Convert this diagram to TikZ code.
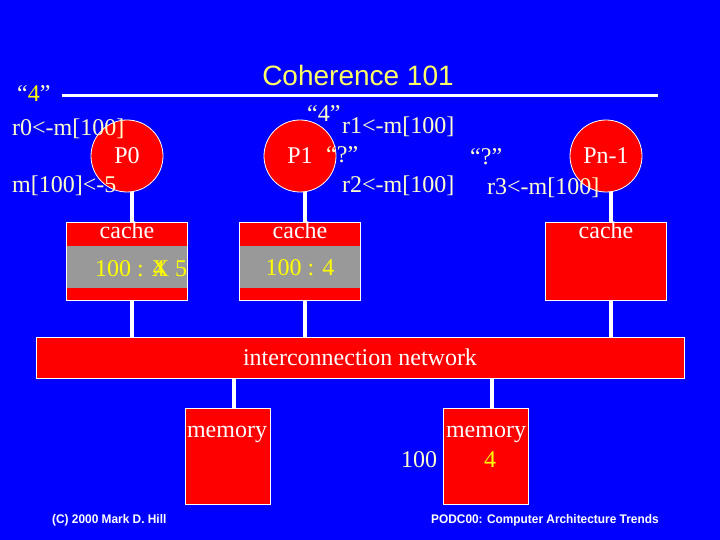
\documentclass[tikz,border=0pt]{standalone}
\usepackage{fontspec}
\usepackage{xcolor}
\usepackage{graphicx}
\usepackage{tikz}
\setmainfont{Liberation Serif}
\newfontfamily\arialfont{Liberation Sans}
\newcommand{\bigtext}{\fontsize{24}{28}\selectfont}
\newcommand{\titletext}{\arialfont\fontsize{28}{32}\selectfont}
\newcommand{\foottext}{\arialfont\bfseries\fontsize{12.5}{14}\selectfont}
\definecolor{slideBlue}{HTML}{0000FF}
\definecolor{slideRed}{HTML}{FF0000}
\definecolor{lineGrey}{HTML}{999999}
\definecolor{labelCream}{HTML}{FFFFCC}
\definecolor{valueYellow}{HTML}{FFFF00}
\definecolor{titleYellow}{HTML}{FFFF66}
\tikzset{
  procnode/.style={circle, draw=white, fill=slideRed, line width=0.8pt, minimum size=72pt, inner sep=0pt, text=white, font=\bigtext},
  cachebox/.style={rectangle, draw=white, fill=slideRed, line width=0.8pt, minimum width=121pt, minimum height=78pt, inner sep=0pt},
  lineband/.style={rectangle, fill=lineGrey, minimum width=120pt, minimum height=42pt, inner sep=0pt},
  netbox/.style={rectangle, draw=white, fill=slideRed, line width=0.8pt, minimum width=648pt, minimum height=41pt, inner sep=0pt},
  membox/.style={rectangle, draw=white, fill=slideRed, line width=0.8pt, minimum width=85pt, minimum height=96pt, inner sep=0pt},
  % --- text styles ---
  lbl/.style={font=\bigtext, text=labelCream, inner sep=0pt, anchor=base west},
  boxtext/.style={font=\bigtext, text=white, inner sep=0pt, anchor=base},
  valtext/.style={font=\bigtext, text=valueYellow, inner sep=0pt, anchor=base},
  foot/.style={font=\foottext, text=white, inner sep=0pt, anchor=base west},
  bus/.style={draw=white, line width=4pt},
}
\begin{document}
\begin{tikzpicture}[x=1pt,y=-1pt]
  \fill[slideBlue] (0,0) rectangle (720,540);
  \useasboundingbox (0,0) rectangle (720,540);

  \node[font=\titletext, text=titleYellow, inner sep=0pt] (title) at (358,75) {Coherence 101};
  \coordinate (ruleL) at (62,95.5);
  \coordinate (ruleR) at (658,95.5);
  \draw[draw=white, line width=3.5pt] (ruleL) -- (ruleR);

  \node[procnode] (P0) at (127,156) {P0};
  \node[procnode] (P1) at (300,156) {P1};
  \node[procnode] (Pn) at (606,156) {Pn-1};

  \node[cachebox] (cache0) at (127,261) {};
  \node[lineband] (line0) at (127,267) {};
  \node[cachebox] (cache1) at (300,261) {};
  \node[lineband] (line1) at (300,267) {};
  \node[cachebox] (cachen) at (606,261) {};

  \node[netbox] (net) at (360,357.5) {};
  \node[membox] (mem0) at (228,456) {};
  \node[membox] (mem1) at (486,456) {};

  \foreach \p/\c in {P0/cache0,P1/cache1,Pn/cachen} {
    \draw[bus] ([xshift=5pt]\p.south) -- ([xshift=5pt]\p.south |- \c.north);
    \draw[bus] ([xshift=5pt]\c.south) -- ([xshift=5pt]\c.south |- net.north);
  }
  \foreach \m in {mem0,mem1} { \draw[bus] ([xshift=6pt]\m.north |- net.south) -- ([xshift=6pt]\m.north); }

  \node[lbl] (q0) at (17,102) {“\textcolor{valueYellow}{4}”};
  \node[lbl] (rd0) at (12,136) {r0<-m[100]};
  \node[lbl] (wr0) at (12,193) {m[100]<-5};
  \node[lbl] (q1) at (307,122) {“4”};
  \node[lbl] (rd1) at (342,134) {r1<-m[100]};
  \node[lbl] (q2) at (326,163) {“?”};
  \node[lbl] (rd2) at (342,193) {r2<-m[100]};
  \node[lbl] (q3) at (470,165) {“?”};
  \node[lbl] (rd3) at (487,195) {r3<-m[100]};

  \node[boxtext] (c0txt) at (127,239) {cache};
  \node[boxtext] (c1txt) at (300,239) {cache};
  \node[boxtext] (cntxt) at (606,239) {cache};
  \node[valtext, anchor=base west] (v0) at (95,276) {100 : \rlap{\hspace{1pt}4}X 5};
  \node[valtext] (v1) at (300,275) {100 : 4};

  \node[boxtext] (nettxt) at (360,365) {interconnection network};
  \node[boxtext] (m0txt) at (227,437) {memory};
  \node[boxtext] (m1txt) at (486,437) {memory};
  \node[lbl, anchor=base] (addr) at (419,467) {100};
  \node[valtext] (mval) at (490,467) {4};

  \node[foot] (copy) at (52,523) {\scalebox{0.95}[1]{(C) 2000 Mark D. Hill}};
  \node[foot] (talk) at (431,523) {\scalebox{0.95}[1]{PODC00: Computer Architecture Trends}};
\end{tikzpicture}
\end{document}
